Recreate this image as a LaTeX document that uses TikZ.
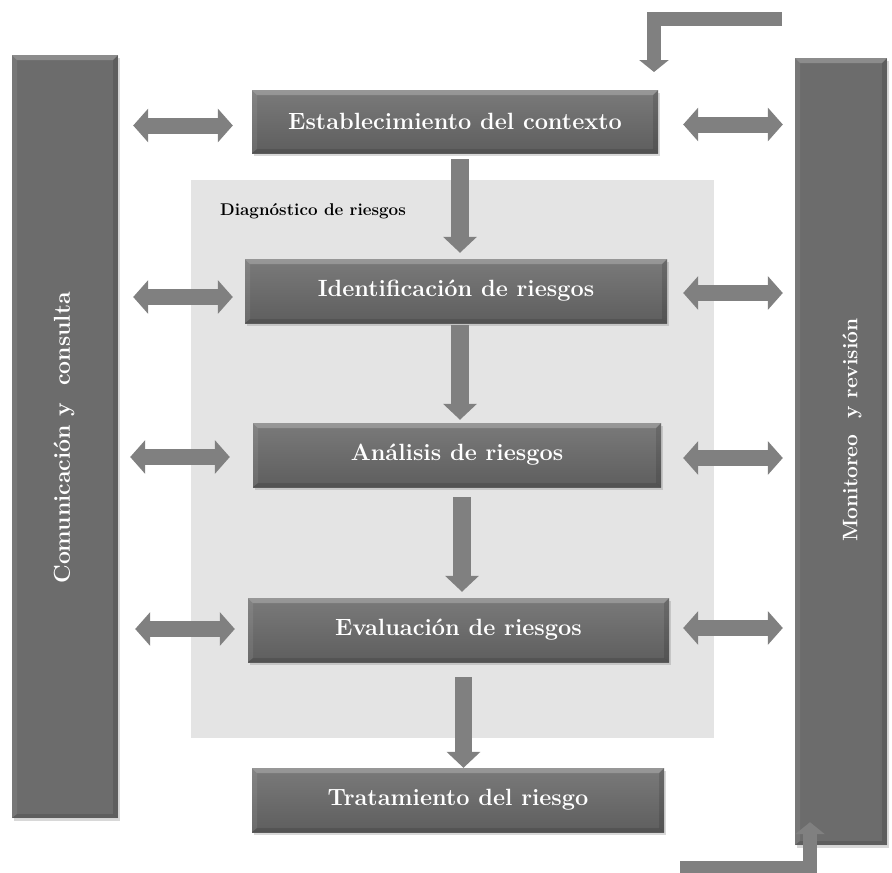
\documentclass[tikz,border=0pt]{standalone}
\usetikzlibrary{arrows.meta,shadows,calc}
\definecolor{boxtop}{HTML}{7A7A7A}
\definecolor{boxbot}{HTML}{5E5E5E}
\definecolor{arrowgray}{HTML}{808080}
\definecolor{diagbg}{HTML}{E4E4E4}
\definecolor{sidebox}{HTML}{6C6C6C}
\tikzset{
  bevel/.style={path picture={
      \fill[white,opacity=.22] (path picture bounding box.north west) -- (path picture bounding box.north east)
        -- ([xshift=-5pt,yshift=-5pt]path picture bounding box.north east) -- ([xshift=5pt,yshift=-5pt]path picture bounding box.north west) -- cycle;
      \fill[black,opacity=.12] (path picture bounding box.south west) -- (path picture bounding box.south east)
        -- ([xshift=-5pt,yshift=4pt]path picture bounding box.south east) -- ([xshift=5pt,yshift=4pt]path picture bounding box.south west) -- cycle;
      \fill[black,opacity=.12] (path picture bounding box.north east) -- (path picture bounding box.south east)
        -- ([xshift=-5pt,yshift=4pt]path picture bounding box.south east) -- ([xshift=-5pt,yshift=-5pt]path picture bounding box.north east) -- cycle;
      \fill[white,opacity=.08] (path picture bounding box.north west) -- (path picture bounding box.south west)
        -- ([xshift=5pt,yshift=4pt]path picture bounding box.south west) -- ([xshift=5pt,yshift=-5pt]path picture bounding box.north west) -- cycle;
  }},
  stagebox/.style={rectangle, inner sep=0pt, top color=boxtop, bottom color=boxbot,
    text=white, font=\fontsize{23.5}{28}\selectfont\bfseries,
    drop shadow={shadow xshift=2pt, shadow yshift=-3pt, opacity=.3}, bevel},
  sidepanel/.style={rectangle, inner sep=0pt, fill=sidebox,
    drop shadow={shadow xshift=2pt, shadow yshift=-3pt, opacity=.3}, bevel},
  sidetext/.style={text=white, rotate=90, inner sep=0pt},
  flow/.style={arrowgray, line width=17.5pt, -{Triangle[width=33pt,length=16pt]}},
  dbl/.style={arrowgray, line width=16pt, {Triangle[width=33pt,length=15pt]}-{Triangle[width=33pt,length=15pt]}},
  elbow/.style={arrowgray, line width=14pt, line join=miter, -{Triangle[width=29pt,length=12pt]}},
}
\begin{document}
\begin{tikzpicture}[x=1pt,y=-1pt]
\useasboundingbox (0,0) rectangle (892,873);
\fill[white] (0,0) rectangle (892,873);

% diagnostic background
\node[fill=diagbg, minimum width=523pt, minimum height=558pt, inner sep=0pt] (diag) at (452.5,459) {};
\node[anchor=base west, inner sep=0pt, font=\fontsize{17}{20}\selectfont\bfseries] (diaglabel) at (220,215) {Diagnóstico de riesgos};

% side panels
\node[sidepanel, minimum width=106pt, minimum height=763pt] (lbox) at (65,436.5) {};
\node[sidetext, font=\fontsize{23}{28}\selectfont\bfseries] (ltext) at (64,438) {Comunicación y\ \ consulta};
\node[sidepanel, minimum width=92pt, minimum height=787pt] (rbox) at (841,451.5) {};
\node[sidetext, font=\fontsize{21}{25}\selectfont\bfseries] (rtext) at (852,430) {Monitoreo\ \ y revisión};

% stages
\node[stagebox, minimum width=406pt, minimum height=63pt] (ctx) at (455,121.5) {Establecimiento del contexto};
\node[stagebox, minimum width=422pt, minimum height=64pt] (ident) at (456,291) {Identificación de riesgos};
\node[stagebox, minimum width=408pt, minimum height=64pt] (anal) at (457,455) {Análisis de riesgos};
\node[stagebox, minimum width=421pt, minimum height=64pt] (eval) at (458.5,630) {Evaluación de riesgos};
\node[stagebox, minimum width=412pt, minimum height=64pt] (trat) at (458,800) {Tratamiento del riesgo};

% flow arrows
\draw[flow] ([xshift=5,yshift=-6]ctx.south) -- ([xshift=5,yshift=6]ctx.south |- ident.north);
\draw[flow] ([xshift=4,yshift=-2]ident.south) -- ([xshift=4,yshift=3]ident.south |- anal.north);
\draw[flow] ([xshift=5,yshift=-10]anal.south) -- ([xshift=5,yshift=6]anal.south |- eval.north);
\draw[flow] ([xshift=5,yshift=-15]eval.south) -- ([xshift=5,yshift=0]eval.south |- trat.north);

% left double arrows
\draw[dbl] ([xshift=15,yshift=-4]lbox.east |- ctx.west) -- ([xshift=-19,yshift=-4]ctx.west);
\draw[dbl] ([xshift=15,yshift=-6]lbox.east |- ident.west) -- ([xshift=-12,yshift=-6]ident.west);
\draw[dbl] ([xshift=12,yshift=-2]lbox.east |- anal.west) -- ([xshift=-23,yshift=-2]anal.west);
\draw[dbl] ([xshift=17,yshift=1]lbox.east |- eval.west) -- ([xshift=-13,yshift=1]eval.west);

% right double arrows
\draw[dbl] ([xshift=25,yshift=-3]ctx.east) -- ([xshift=-12,yshift=-3]rbox.west |- ctx.east);
\draw[dbl] ([xshift=16,yshift=-2]ident.east) -- ([xshift=-12,yshift=-2]rbox.west |- ident.east);
\draw[dbl] ([xshift=22,yshift=-3]anal.east) -- ([xshift=-12,yshift=-3]rbox.west |- anal.east);
\draw[dbl] ([xshift=14,yshift=2]eval.east) -- ([xshift=-12,yshift=2]rbox.west |- eval.east);

% elbow arrows
\coordinate (topstart) at (782,19);
\coordinate (topcorner) at (654,19);
\coordinate (topend) at (654,72);
\draw[elbow] (topstart) -- (topcorner) -- (topend);
\coordinate (botstart) at (680,868);
\coordinate (botcorner) at (810,868);
\draw[elbow] (botstart) -- (botcorner) -- ([yshift=23]rbox.south -| botcorner);
\end{tikzpicture}
\end{document}
